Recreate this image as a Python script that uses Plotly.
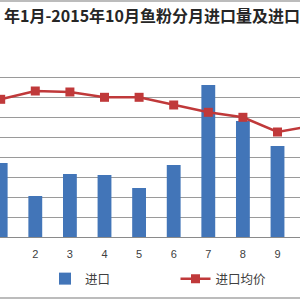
import plotly.graph_objects as go

months = [1, 2, 3, 4, 5, 6, 7, 8, 9, 10]
tick_labels = ["1", "2", "3", "4", "5", "6", "7", "8", "9", "10"]
imports = [7.4, 4.1, 6.3, 6.2, 4.9, 7.2, 15.2, 11.6, 9.1, 8.0]          # 万吨
avg_price = [1377, 1460, 1450, 1397, 1397, 1320, 1247, 1197, 1050, 1110]  # 美元/吨

title_text = "年1月-2015年10月鱼粉分月进口量及进口"

fig = go.Figure()
fig.add_trace(go.Bar(
    x=months, y=imports, name="进口", width=0.4,
    marker=dict(color="#4275b8", line=dict(width=0)),
    yaxis="y", legend="legend"))
fig.add_trace(go.Scatter(
    x=months, y=avg_price, name="进口均价", mode="lines+markers",
    line=dict(color="#c0393a", width=2.5),
    marker=dict(symbol="square", size=9, color="#c0393a"),
    yaxis="y2", legend="legend2"))

legend_font = dict(family="Noto Sans CJK SC", size=12.5, color="#404040")

fig.update_layout(
    width=300, height=300,
    margin=dict(l=0, r=0, t=0, b=0),
    paper_bgcolor="white", plot_bgcolor="white",
    showlegend=True,
    legend=dict(orientation="h", x=0.15, y=0.07, xanchor="left", yanchor="middle",
                font=legend_font, bgcolor="rgba(0,0,0,0)", itemwidth=30),
    legend2=dict(orientation="h", x=0.585, y=0.07, xanchor="left", yanchor="middle",
                 font=legend_font, bgcolor="rgba(0,0,0,0)", itemwidth=30),
    xaxis=dict(domain=[0, 1], range=[0.98, 9.65], tickmode="array",
               tickvals=months, ticktext=tick_labels, showgrid=False,
               zeroline=False, showline=False, ticks="", ticklabelstandoff=9,
               tickfont=dict(family="Liberation Sans", size=11, color="#404040")),
    yaxis=dict(domain=[0.21, 0.81], range=[0, 18], dtick=2, showgrid=True,
               gridcolor="#9a9a9a", gridwidth=1, showticklabels=False,
               zeroline=True, zerolinecolor="#8a8a8a", zerolinewidth=1, ticks=""),
    yaxis2=dict(domain=[0.21, 0.81], range=[0, 1800], overlaying="y", side="right",
                showgrid=False, showticklabels=False, zeroline=False, ticks=""),
    bargap=0.6,
    annotations=[dict(text="<b>" + title_text + "</b>", xref="paper", yref="paper",
                      x=0.008, y=(300 - 15) / 300, xanchor="left", yanchor="middle",
                      showarrow=False,
                      font=dict(family="Noto Sans CJK SC", size=16, color="#262626"))],
    shapes=[
        dict(type="line", xref="paper", yref="paper", x0=0, x1=1, y0=0.997, y1=0.997,
             line=dict(color="#a6a6a6", width=1.5)),
        dict(type="line", xref="paper", yref="paper", x0=0, x1=1, y0=0.007, y1=0.007,
             line=dict(color="#a6a6a6", width=1.5)),
    ],
)

fig.write_html("out.html")
